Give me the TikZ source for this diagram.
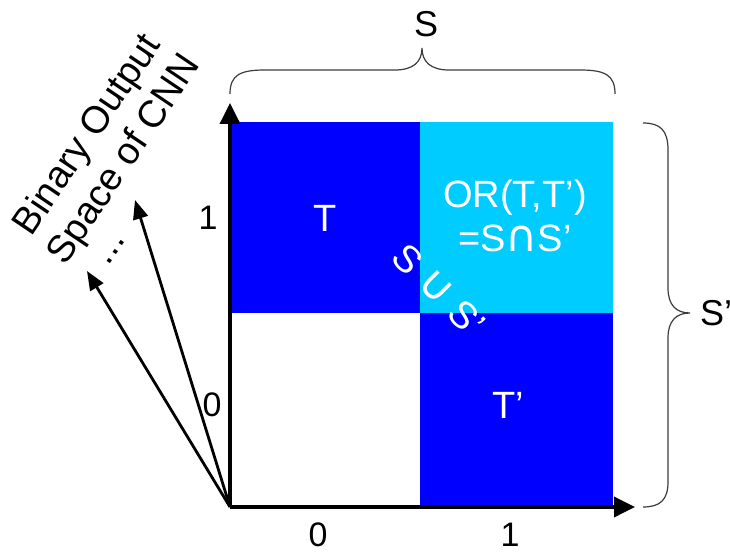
\documentclass[tikz,border=0pt]{standalone}
\usepackage{fontspec}
\setmainfont{Liberation Sans}
\newfontfamily\symfont{DejaVu Sans}
\usetikzlibrary{arrows.meta}
\definecolor{tblue}{RGB}{0,0,255}
\definecolor{tcyan}{RGB}{0,204,255}
\definecolor{bracegray}{RGB}{60,60,60}
\begin{document}
\begin{tikzpicture}[x=1pt,y=-1pt,
  axis/.style={line width=3.6pt,-{Triangle[length=21pt,width=20pt]}},
  ray/.style={line width=2.8pt,-{Triangle[length=19pt,width=15pt]}},
  bracepath/.style={draw=bracegray,line width=1.2pt},
  big/.style={font=\fontsize{38}{44}\selectfont},
  digit/.style={font=\fontsize{34}{40}\selectfont},
  small/.style={font=\fontsize{36}{40}\selectfont},
  wtext/.style={big,text=white,align=center,inner sep=0pt}]
\useasboundingbox (0,0) rectangle (730,553);
% quadrants
\fill[tblue] (230,122) rectangle (420,313);
\fill[tcyan] (420,122) rectangle (613,313);
\fill[tblue] (420,313) rectangle (613,507);
% axes
\coordinate (O) at (230,507);
\coordinate (ytip) at (230,103);
\coordinate (xtip) at (635,507);
\coordinate (r1) at (135,200);
\coordinate (r2) at (87,271);
\draw[axis] (O) -- (ytip);
\draw[axis] (O) -- (xtip);
\draw[ray] (O) -- (r1);
\draw[ray] (O) -- (r2);
% labels
\node[digit] (y1) at (208,218) {1};
\node[digit] (y0) at (212,405) {0};
\node[digit] (x0) at (318,535) {0};
\node[digit] (x1) at (510,535) {1};
\node[wtext] (T) at (325,218) {T};
\node[wtext] (Tp) at (508,405) {T’};
\node[wtext] (OR) at (515,216) {OR(T,T’)\\=S{\symfont\fontsize{44}{44}\selectfont ∩}S’};
\node[wtext,rotate=-45] (SuS) at (439,290) {S {\symfont\fontsize{44}{44}\selectfont ∪} S’};
% rotated caption
\node[big,rotate=56,align=center,inner sep=0pt] (cap) at (107,148) {Binary Output\\Space of CNN};
\node[big,rotate=56,inner sep=0pt] (dots) at (116,252) {...};
% braces
\draw[bracepath] (230,94) .. controls (230,75) and (240,70) .. (265,70) -- (395,70)
  .. controls (413,70) and (422,62) .. (422,48)
  .. controls (422,62) and (431,70) .. (449,70) -- (580,70)
  .. controls (605,70) and (615,75) .. (615,94);
\node[small,inner sep=0pt] (S) at (426,24) {S};
\draw[bracepath] (643,123) .. controls (660,123) and (668,130) .. (668,150) -- (668,288)
  .. controls (668,305) and (676,313) .. (690,313)
  .. controls (676,313) and (668,321) .. (668,338) -- (668,482)
  .. controls (668,500) and (660,507) .. (643,507);
\node[small,anchor=west,inner sep=0pt] (Sp) at (700,313) {S’};
\end{tikzpicture}
\end{document}
